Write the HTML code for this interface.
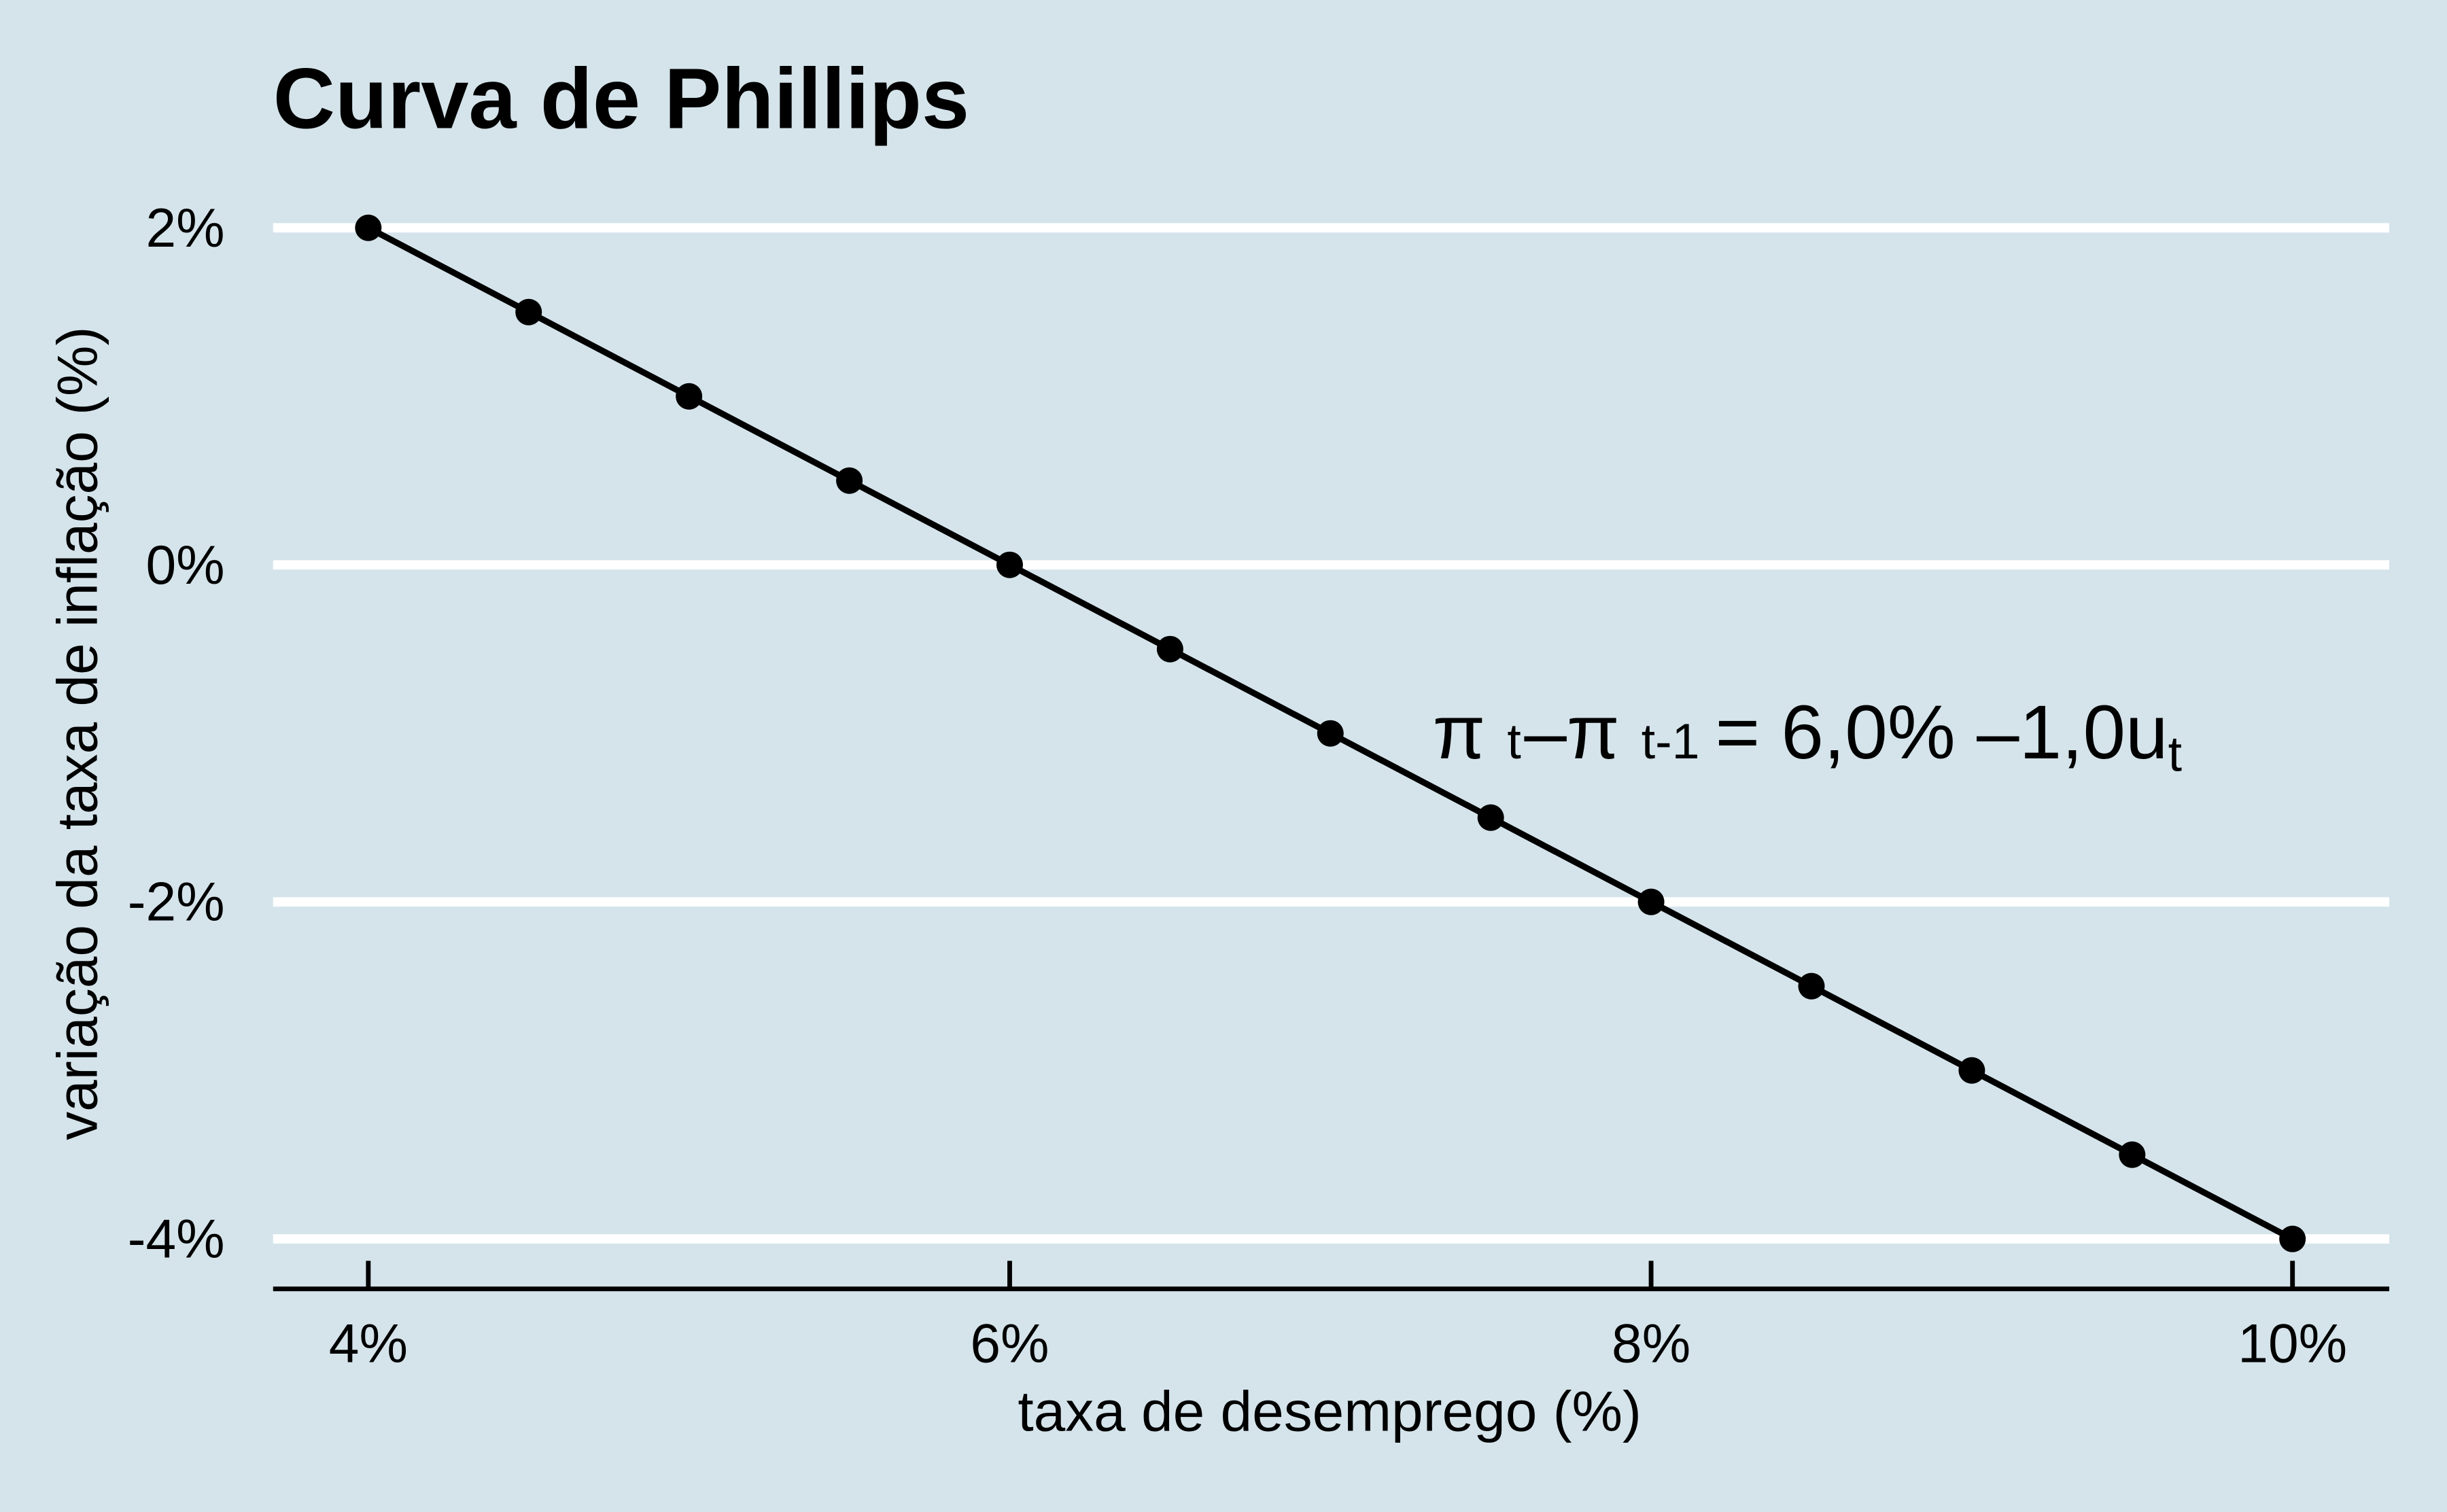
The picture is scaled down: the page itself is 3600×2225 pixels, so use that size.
<!DOCTYPE html>
<html><head><meta charset="utf-8">
<style>
html,body{margin:0;padding:0;background:#d5e4eb;}
svg{display:block;font-family:"Liberation Sans",Arial,sans-serif;}
</style></head>
<body>
<svg id="chart" width="3600" height="2225" viewBox="0 0 1568 969" preserveAspectRatio="none" xmlns="http://www.w3.org/2000/svg">
<rect x="0" y="0" width="1568" height="969" fill="#d5e4eb"/>
<text x="175" y="82" font-size="55" font-weight="bold" fill="#000">Curva de Phillips</text>
<g id="grid"></g>
<g id="yticks"></g>
<g id="xaxis"></g>
<g id="series"></g>
<text x="852" y="917" font-size="36.5" text-anchor="middle" fill="#000">taxa de desemprego (%)</text>
<text transform="translate(62,470) rotate(-90)" font-size="36.5" text-anchor="middle" fill="#000">variação da taxa de inflação (%)</text>
<text x="918" y="486" font-size="49" fill="#000">π<tspan font-size="32" dx="14">t</tspan><tspan dx="2">–π</tspan><tspan font-size="32" dx="14">t-1</tspan><tspan dx="10">= 6,0% –1,0u</tspan><tspan font-size="32" dy="8">t</tspan></text>
</svg>
<script>
const unemployment = [4,4.5,5,5.5,6,6.5,7,7.5,8,8.5,9,9.5,10];
const inflationChange = [2,1.5,1,0.5,0,-0.5,-1,-1.5,-2,-2.5,-3,-3.5,-4];
const yTickValues = [2,0,-2,-4];
const yTickLabels = ["2%","0%","-2%","-4%"];
const xTickValues = [4,6,8,10];
const xTickLabels = ["4%","6%","8%","10%"];

const NS = "http://www.w3.org/2000/svg";
function xs(v){ return 236 + (v-4)*(1469-236)/6; }
function ys(v){ return 362 - v*108; }
function mk(tag, attrs, parent){
  const e = document.createElementNS(NS, tag);
  for (const k in attrs) e.setAttribute(k, attrs[k]);
  parent.appendChild(e); return e;
}
const grid = document.getElementById('grid');
const yt = document.getElementById('yticks');
yTickValues.forEach((v,i)=>{
  const l = mk('line',{x1:175,x2:1531,y1:ys(v),y2:ys(v),stroke:'#fff','stroke-width':6},grid);
  
  
  const t = mk('text',{x:144,y:ys(v)+12,'font-size':35,'text-anchor':'end',fill:'#000'},yt);
  t.textContent = yTickLabels[i];
  
  
});
const xa = document.getElementById('xaxis');
const axl = mk('line',{x1:175,x2:1531,y1:826,y2:826,stroke:'#000','stroke-width':3},xa);


xTickValues.forEach((v,i)=>{
  const tk = mk('line',{x1:xs(v),x2:xs(v),y1:808,y2:826,stroke:'#000','stroke-width':3},xa);
  
  
  const t = mk('text',{x:xs(v),y:873,'font-size':35,'text-anchor':'middle',fill:'#000'},xa);
  t.textContent = xTickLabels[i];
  
  
});
const s = document.getElementById('series');
const pts = unemployment.map((u,i)=>xs(u)+','+ys(inflationChange[i])).join(' ');
const pl = mk('polyline',{points:pts,fill:'none',stroke:'#000','stroke-width':4},s);


unemployment.forEach((u,i)=>{
  const c = mk('circle',{cx:xs(u),cy:ys(inflationChange[i]),r:8.5,fill:'#000'},s);
  
  
});
</script>
</body></html>
